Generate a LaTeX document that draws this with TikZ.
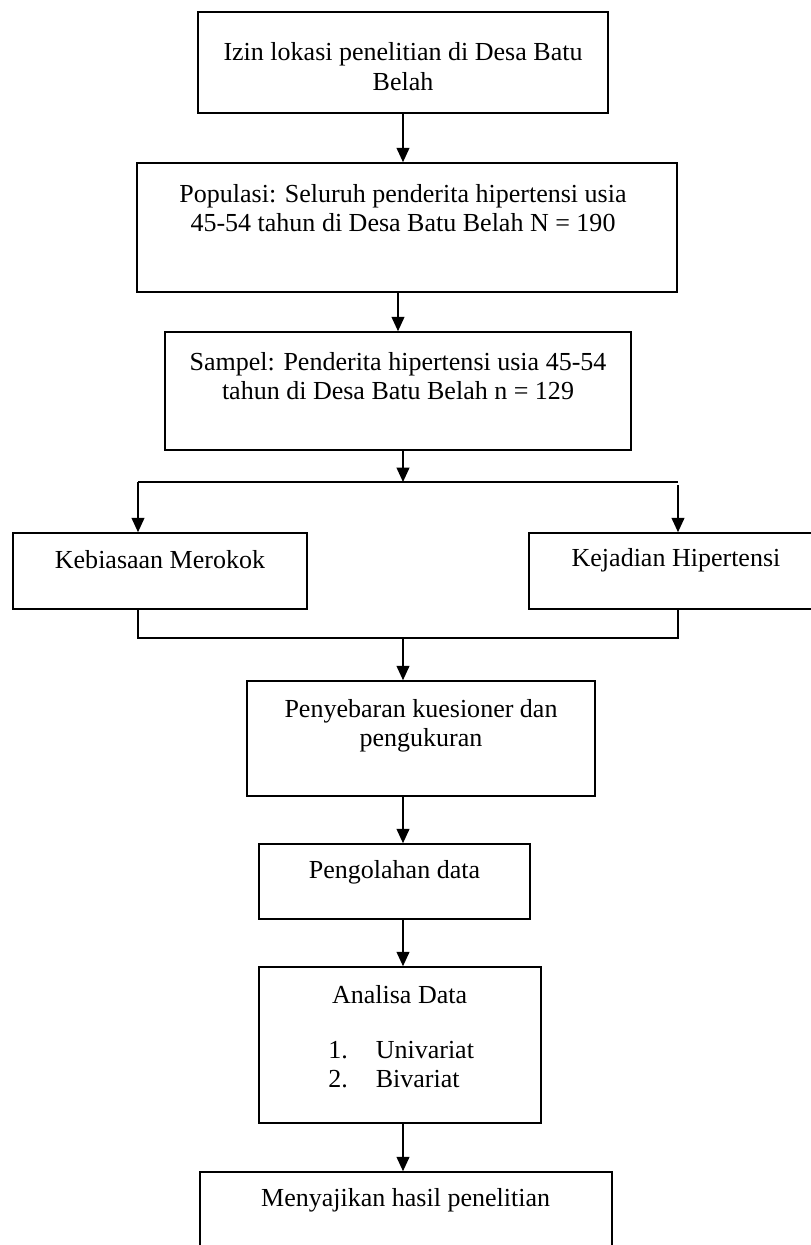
\documentclass[tikz,border=0pt]{standalone}
\usepackage{fontspec}
\setmainfont{Liberation Serif}
\usetikzlibrary{positioning, arrows.meta, calc}

\begin{document}
\begin{tikzpicture}[
    box/.style={rectangle, draw=black, line width=1.1pt, fill=white},
    txt/.style={align=center, font=\fontsize{18.5}{21}\selectfont, inner sep=0pt},
    arr/.style={-{Triangle[length=0.36cm, width=0.32cm]}, line width=1.2pt, draw=black},
    line/.style={line width=1.2pt, draw=black}
]
    \useasboundingbox (0,0) rectangle (20.275,-31.125);

    \node[box, minimum width=10.25cm, minimum height=2.525cm] (izin) at (10.075, -1.5625) {};
    \node[txt] (izin-t) at (10.075, -1.66) {Izin lokasi penelitian di Desa Batu\\Belah};

    \node[box, minimum width=13.5cm, minimum height=3.225cm] (pop) at (10.175, -5.6875) {};
    \node[txt] (pop-t) at (10.075, -5.2) {Populasi: Seluruh penderita hipertensi usia\\45-54 tahun di Desa Batu Belah N = 190};

    \node[box, minimum width=11.65cm, minimum height=2.95cm] (sampel) at (9.95, -9.775) {};
    \node[txt] (sampel-t) at (9.95, -9.4) {Sampel: Penderita hipertensi usia 45-54\\tahun di Desa Batu Belah n = 129};

    \node[box, minimum width=7.35cm, minimum height=1.9cm] (rokok) at (4.0, -14.275) {};
    \node[txt] (rokok-t) at (4.0, -14.0) {Kebiasaan Merokok};

    \node[box, minimum width=7.35cm, minimum height=1.9cm] (hiper) at (16.9, -14.275) {};
    \node[txt] (hiper-t) at (16.9, -14.0) {Kejadian Hipertensi};

    \node[box, minimum width=8.7cm, minimum height=2.875cm] (sebar) at (10.525, -18.4625) {};
    \node[txt] (sebar-t) at (10.525, -18.14) {Penyebaran kuesioner dan\\pengukuran};

    \node[box, minimum width=6.775cm, minimum height=1.875cm] (olah) at (9.8625, -22.0375) {};
    \node[txt] (olah-t) at (9.8625, -21.8) {Pengolahan data};

    \node[box, minimum width=7.05cm, minimum height=3.9cm] (analisa) at (10.0, -26.125) {};
    \node[txt] (analisa-t) at (9.99, -24.875) {Analisa Data};
    \node[txt, anchor=west] (analisa-l) at (8.2, -26.675) {\begin{tabular}{@{}l@{\hspace{0.7cm}}l@{}}1. & Univariat\\2. & Bivariat\end{tabular}};

    \node[box, minimum width=10.3cm, minimum height=3.0cm] (saji) at (10.15, -30.8) {};
    \node[txt] (saji-t) at (10.14, -30.0) {Menyajikan hasil penelitian};

    % cabang ke dua variabel
    \coordinate (split) at (10.075, -12.05);
    \coordinate (splitL) at (3.45, -12.05);
    \coordinate (splitR) at (16.95, -12.05);
    \coordinate (join) at (10.075, -15.95);

    \draw[arr] (izin.south) -- (izin.south |- pop.north);
    \draw[arr] (pop.south -| sampel-t) -- (sampel.north -| sampel-t);
    \draw[arr] (sampel.south -| split) -- (split);
    \draw[line] (splitL) -- (splitR);
    \draw[arr] (splitL) -- (splitL |- rokok.north);
    \draw[arr] ([yshift=-0.08cm]splitR) -- (splitR |- hiper.north);

    \draw[line] (splitL |- rokok.south) -- (splitL |- join) -- (splitR |- join) -- (splitR |- hiper.south);
    \draw[arr] (join) -- (join |- sebar.north);
    \draw[arr] (sebar.south -| join) -- (olah.north -| join);
    \draw[arr] (olah.south -| join) -- (analisa.north -| join);
    \draw[arr] (analisa.south -| join) -- (saji.north -| join);
\end{tikzpicture}
\end{document}
